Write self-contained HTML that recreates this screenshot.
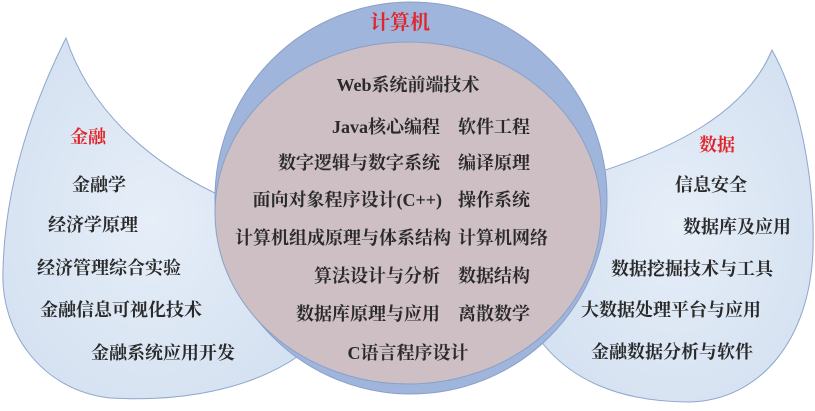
<!DOCTYPE html>
<html><head><meta charset="utf-8"><style>
body{margin:0;width:815px;height:406px;background:#fff;overflow:hidden}
svg text{font-family:"Liberation Serif","Noto Serif CJK SC",serif;font-weight:bold;font-size:18px;fill:#2a2a2a}
svg text.t{fill:#e0262a;font-size:20px}
</style></head><body>
<svg width="815" height="406" viewBox="0 0 815 406">
<defs>
<radialGradient id="g" cx="0.5" cy="0.5" r="0.6"><stop offset="0" stop-color="#e6eef8"/><stop offset="1" stop-color="#d4e1f1"/></radialGradient>
</defs>
<path d="M66,38 C90,110 150,165 230,200 L300,355 C250,390 180,402 110,398 C40,390 0,330 3,270 C5,180 35,100 66,38 Z" fill="url(#g)" stroke="#8ea7cc" stroke-width="1"/>
<path d="M772,50 C800,100 815,180 813,250 C810,340 760,400 690,402 C620,402 570,380 540,340 L590,175 C670,150 745,115 772,50 Z" fill="url(#g)" stroke="#8ea7cc" stroke-width="1"/>
<circle cx="411" cy="198" r="196" fill="#9fb5dc" stroke="#8aa0c8"/>
<ellipse cx="408" cy="213" rx="193" ry="171" fill="#cdbfc4" stroke="#8aa0c8"/>
<text class="t" x="400" y="29" text-anchor="middle">计算机</text>
<text x="408" y="91" text-anchor="middle">Web系统前端技术</text>
<g text-anchor="end">
<text x="440" y="133">Java核心编程</text>
<text x="440" y="169">数字逻辑与数字系统</text>
<text x="442" y="206">面向对象程序设计(C++)</text>
<text x="451" y="244">计算机组成原理与体系结构</text>
<text x="440" y="282">算法设计与分析</text>
<text x="440" y="320">数据库原理与应用</text>
</g>
<g>
<text x="458" y="133">软件工程</text>
<text x="458" y="169">编译原理</text>
<text x="458" y="206">操作系统</text>
<text x="458" y="244">计算机网络</text>
<text x="458" y="282">数据结构</text>
<text x="458" y="320">离散数学</text>
</g>
<text x="408" y="359" text-anchor="middle">C语言程序设计</text>
<text class="t" x="70" y="143" style="font-size:18px">金融</text>
<text x="72" y="191">金融学</text>
<text x="48" y="231">经济学原理</text>
<text x="37" y="274">经济管理综合实验</text>
<text x="40" y="316">金融信息可视化技术</text>
<text x="91" y="359">金融系统应用开发</text>
<text class="t" x="699" y="151" style="font-size:18px">数据</text>
<text x="675" y="191">信息安全</text>
<text x="683" y="233">数据库及应用</text>
<text x="611" y="275">数据挖掘技术与工具</text>
<text x="581" y="316">大数据处理平台与应用</text>
<text x="591" y="358">金融数据分析与软件</text>
</svg>
</body></html>
